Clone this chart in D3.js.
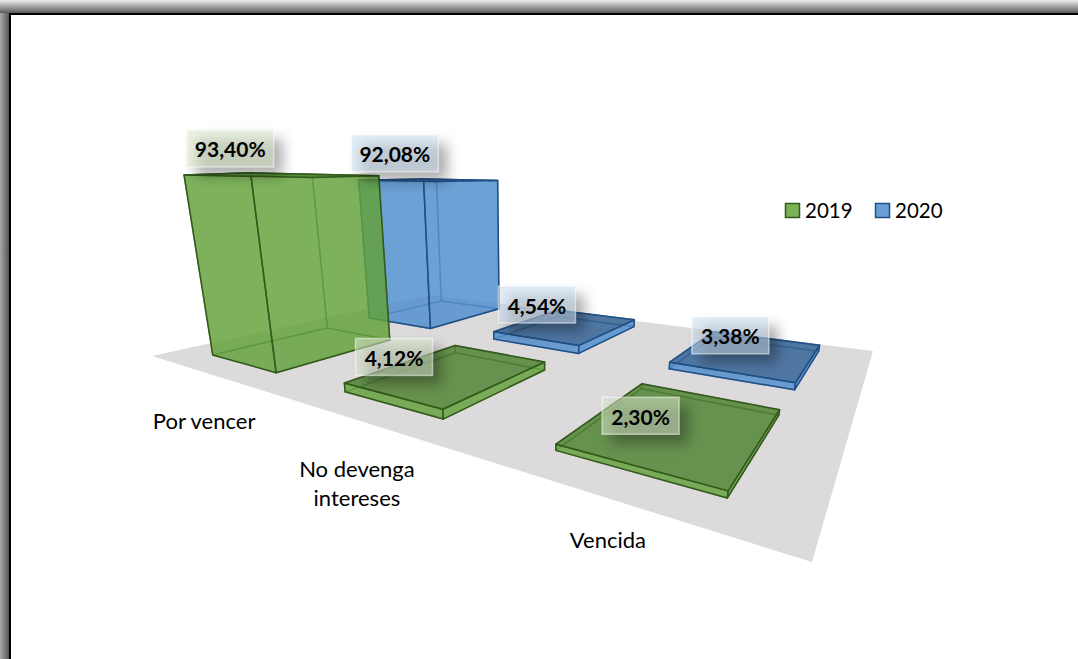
<!DOCTYPE html>
<html>
<head>
<meta charset="utf-8">
<script src="https://cdn.jsdelivr.net/npm/d3@7"></script>
<style>
  html, body { margin: 0; padding: 0; background: #fff; }
  svg { display: block; }
  text { font-family: Lato, "Open Sans", sans-serif; fill: #000; }
</style>
</head>
<body>
<div id="chart"></div>
<script>
"use strict";

const categories = ["Por vencer", "No devenga intereses", "Vencida"];
const seriesNames = ["2019", "2020"];
const values2019 = [93.40, 4.12, 2.30];
const values2020 = [92.08, 4.54, 3.38];

const msm = { width: 1078, height: 659 };

// floor of the 3d box on screen, and where the vertical edges meet
const floor = [[152, 356], [812, 562], [873, 351], [431, 295]];
const vanish = [520, 2280];

const colors = {
  "2019": { side: "#63a23b", top: "#4c8030", line: "#33591c", box: "#d8e8ca" },
  "2020": { side: "#4f8ecd", top: "#2f5f92", line: "#1f5085", box: "#cadef2" }
};

// label offsets from the top centre of each bar, moved by hand in the original
const labelShift = {
  "2019": [[-56, -27], [-56, -15], [-35, -10]],
  "2020": [[-36, -27], [-30, -21], [-18, -18]]
};
const categoryShift = [[-2, 50], [2, 52], [0, 44]];

const xBand = d3.scaleBand().domain(categories).range([0.002, 1.002]).paddingInner(0.47).paddingOuter(0.235);
const depthBand = d3.scaleBand().domain(seriesNames).range([0.006, 1.006]).paddingInner(0.32).paddingOuter(0.16);
const zScale = d3.scaleLinear().domain([0, 100]).range([0, -0.0919]);

const H = floorMatrix(floor);

// square to quad mapping for the floor
function floorMatrix(q) {
  let dx1 = q[1][0] - q[2][0], dx2 = q[3][0] - q[2][0], sx = q[0][0] - q[1][0] + q[2][0] - q[3][0];
  let dy1 = q[1][1] - q[2][1], dy2 = q[3][1] - q[2][1], sy = q[0][1] - q[1][1] + q[2][1] - q[3][1];
  let det = dx1 * dy2 - dx2 * dy1;
  let g = (sx * dy2 - dx2 * sy) / det;
  let h = (dx1 * sy - sx * dy1) / det;
  return {
    a: q[1][0] - q[0][0] + g * q[1][0], b: q[3][0] - q[0][0] + h * q[3][0], c: q[0][0],
    d: q[1][1] - q[0][1] + g * q[1][1], e: q[3][1] - q[0][1] + h * q[3][1], f: q[0][1],
    g: g, h: h
  };
}

// u along the categories, v along the series, val is the percent height
function project(u, v, val) {
  let w = H.g * u + H.h * v + 1;
  let hk = zScale(val);
  let xh = H.a * u + H.b * v + H.c + hk * vanish[0];
  let yh = H.d * u + H.e * v + H.f + hk * vanish[1];
  return [xh / (w + hk), yh / (w + hk)];
}

const line = d3.line();
const svg = d3.select("#chart").append("svg")
  .attr("width", msm.width)
  .attr("height", msm.height);

const defs = svg.append("defs");
defs.append("filter").attr("id", "blur")
  .attr("x", "-50%").attr("y", "-60%").attr("width", "200%").attr("height", "220%")
  .append("feGaussianBlur").attr("stdDeviation", 6.5);

let topGrad = defs.append("linearGradient").attr("id", "topGrad")
  .attr("x1", 0).attr("y1", 0).attr("x2", 0).attr("y2", 1);
topGrad.append("stop").attr("offset", 0).attr("stop-color", "#eeeeee");
topGrad.append("stop").attr("offset", 1).attr("stop-color", "#5a5a5a");
let leftGrad = defs.append("linearGradient").attr("id", "leftGrad")
  .attr("x1", 0).attr("y1", 0).attr("x2", 1).attr("y2", 0);
leftGrad.append("stop").attr("offset", 0).attr("stop-color", "#a8a8a8");
leftGrad.append("stop").attr("offset", 1).attr("stop-color", "#555555");

drawFrame();

// floor
svg.append("path")
  .attr("d", line([project(0, 0, 0), project(1, 0, 0), project(1, 1, 0), project(0, 1, 0)]) + "Z")
  .attr("fill", "#dcdadb");

// back series first so the front one covers it
drawBars("2020", values2020);
drawBars("2019", values2019);

drawLabels("2020", values2020);
drawLabels("2019", values2019);
drawCategories();
drawLegend();

function drawFrame() {
  svg.append("rect").attr("x", 0).attr("y", 0).attr("width", 9).attr("height", msm.height)
    .attr("fill", "url(#leftGrad)");
  svg.append("rect").attr("x", 0).attr("y", 0).attr("width", msm.width).attr("height", 13)
    .attr("fill", "url(#topGrad)");
  svg.append("rect").attr("x", 9).attr("y", 13).attr("width", 2).attr("height", msm.height - 13)
    .attr("fill", "#000");
  svg.append("rect").attr("x", 9).attr("y", 13).attr("width", msm.width - 9).attr("height", 2)
    .attr("fill", "#000");
}

function drawBars(series, values) {
  let c = colors[series];
  let v0 = depthBand(series);
  let v1 = v0 + depthBand.bandwidth();
  let g = svg.append("g").attr("class", "bars-" + series);

  categories.forEach((cat, i) => {
    let u0 = xBand(cat);
    let u1 = u0 + xBand.bandwidth();
    let val = values[i];

    let faces = [
      { pts: [[u0, v0, 0], [u1, v0, 0], [u1, v1, 0], [u0, v1, 0]], fill: c.side, op: 0.2, lineOp: 0.5 },
      { pts: [[u0, v1, 0], [u1, v1, 0], [u1, v1, val], [u0, v1, val]], fill: c.side, op: 0.25, lineOp: 0.5 },
      { pts: [[u0, v0, 0], [u0, v1, 0], [u0, v1, val], [u0, v0, val]], fill: c.side, op: 0.25, lineOp: 0.5 },
      { pts: [[u0, v0, 0], [u1, v0, 0], [u1, v0, val], [u0, v0, val]], fill: c.side, op: 0.78, lineOp: 1 },
      { pts: [[u1, v0, 0], [u1, v1, 0], [u1, v1, val], [u1, v0, val]], fill: c.side, op: 0.78, lineOp: 1 },
      { pts: [[u0, v0, val], [u1, v0, val], [u1, v1, val], [u0, v1, val]], fill: c.top, op: 0.78, lineOp: 1 }
    ];

    g.selectAll(".face-" + i)
      .data(faces)
      .enter()
      .append("path")
        .attr("class", "face-" + i)
        .attr("d", (d) => line(d.pts.map((p) => project(p[0], p[1], p[2]))) + "Z")
        .attr("fill", (d) => d.fill)
        .attr("fill-opacity", (d) => d.op)
        .attr("stroke", c.line)
        .attr("stroke-opacity", (d) => d.lineOp)
        .attr("stroke-width", 1.5)
        .attr("stroke-linejoin", "round");
  });
}

function drawLabels(series, values) {
  let c = colors[series];
  let boxW = 77, boxH = 37;
  let v = depthBand(series) + depthBand.bandwidth() / 2;

  categories.forEach((cat, i) => {
    let u = xBand(cat) + xBand.bandwidth() / 2;
    let p = project(u, v, values[i]);
    let cx = p[0] + labelShift[series][i][0];
    let cy = p[1] + labelShift[series][i][1];
    let w = values[i] > 10 ? boxW + 10 : boxW;

    // soft shadow
    svg.append("rect")
      .attr("x", cx - w / 2 + 9).attr("y", cy - boxH / 2 + 9)
      .attr("width", w).attr("height", boxH)
      .attr("fill", "#000").attr("fill-opacity", 0.32)
      .attr("filter", "url(#blur)");

    svg.append("rect")
      .attr("x", cx - w / 2).attr("y", cy - boxH / 2)
      .attr("width", w).attr("height", boxH)
      .attr("fill", c.box).attr("fill-opacity", 0.55)
      .attr("stroke", "#ffffff").attr("stroke-opacity", 0.5).attr("stroke-width", 1.5);

    svg.append("text")
      .attr("x", cx).attr("y", cy + 9)
      .attr("text-anchor", "middle")
      .style("font-size", "21px")
      .style("font-weight", 700)
      .text(values[i].toFixed(2).replace(".", ",") + "%");
  });
}

function drawCategories() {
  categories.forEach((cat, i) => {
    let p = project(xBand(cat) + xBand.bandwidth() / 2, 0, 0);
    let x = p[0] + categoryShift[i][0];
    let y = p[1] + categoryShift[i][1] + 6;
    let lines = cat == "No devenga intereses" ? ["No devenga", "intereses"] : [cat];
    lines.forEach((t, j) => {
      svg.append("text")
        .attr("x", x).attr("y", y + j * 29)
        .attr("text-anchor", "middle")
        .style("font-size", "22px")
        .text(t);
    });
  });
}

function drawLegend() {
  let legend = svg.append("g").attr("transform", "translate(785, 203)");
  seriesNames.forEach((name, i) => {
    let x = i * 90;
    legend.append("rect")
      .attr("x", x + 0.5).attr("y", 0.5)
      .attr("width", 14).attr("height", 14)
      .attr("fill", i == 0 ? "#7ab256" : "#6aa0d8")
      .attr("stroke", colors[name].line)
      .attr("stroke-width", 1.5);
    legend.append("text")
      .attr("x", x + 20).attr("y", 15)
      .style("font-size", "20.5px")
      .text(name);
  });
}
</script>
</body>
</html>
